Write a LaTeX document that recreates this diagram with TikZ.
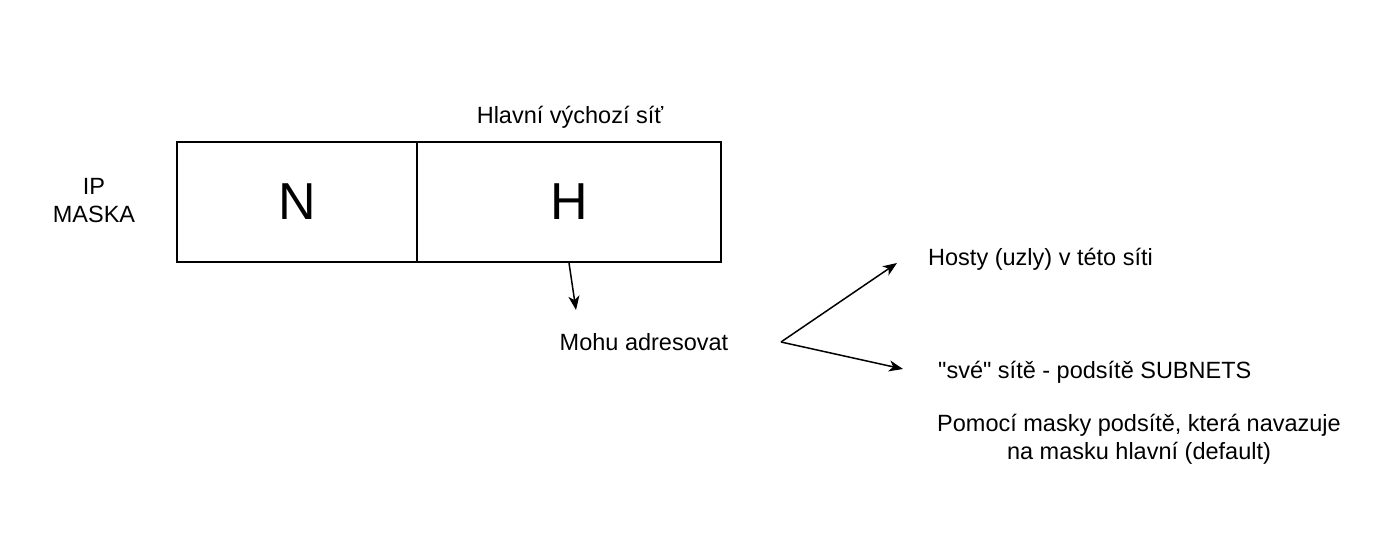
\documentclass[tikz,border=0pt]{standalone}
\usepackage{fontspec}
\setmainfont{Liberation Sans}[Ligatures=TeXOff]
\usetikzlibrary{arrows.meta}
\begin{document}
\begin{tikzpicture}[x=1pt,y=-1pt,
  lbl/.style={inner sep=0pt,font=\fontsize{23.5}{28}\selectfont,align=center},
  big/.style={inner sep=0pt,font=\fontsize{52}{60}\selectfont},
  cell/.style={draw,line width=1.5pt,minimum height=120pt,inner sep=0pt},
  arr/.style={line width=1.5pt,-{Stealth[length=14pt,width=11pt,inset=4pt]}}]
\useasboundingbox (0,0) rectangle (1379,549);
\node[cell,minimum width=240pt] (n) at (297,202) {};
\node[cell,minimum width=304pt] (h) at (569,202) {};
\node[big] at (n.center) {N};
\node[big] at (h.center) {H};
\node[lbl] (ip) at (94,201) {IP\\MASKA};
\node[lbl] (hl) at (570,117) {Hlavní výchozí síť};
\node[lbl] (mohu) at (644,342) {Mohu adresovat};
\node[lbl,anchor=west] (hosty) at (928,259) {Hosty (uzly) v této síti};
\node[lbl,anchor=west] (sve) at (938,372) {"své" sítě - podsítě SUBNETS};
\node[lbl] (pom) at (1139,439) {Pomocí masky podsítě, která navazuje\\na masku hlavní (default)};
\coordinate (hs) at (569,263);
\coordinate (ht) at (576,310);
\coordinate (apex) at (781,342);
\coordinate (t1) at (897,263);
\coordinate (t2) at (903,369);
\draw[arr] (hs) -- (ht);
\draw[arr] (apex) -- (t1);
\draw[arr] (apex) -- (t2);
\end{tikzpicture}
\end{document}
